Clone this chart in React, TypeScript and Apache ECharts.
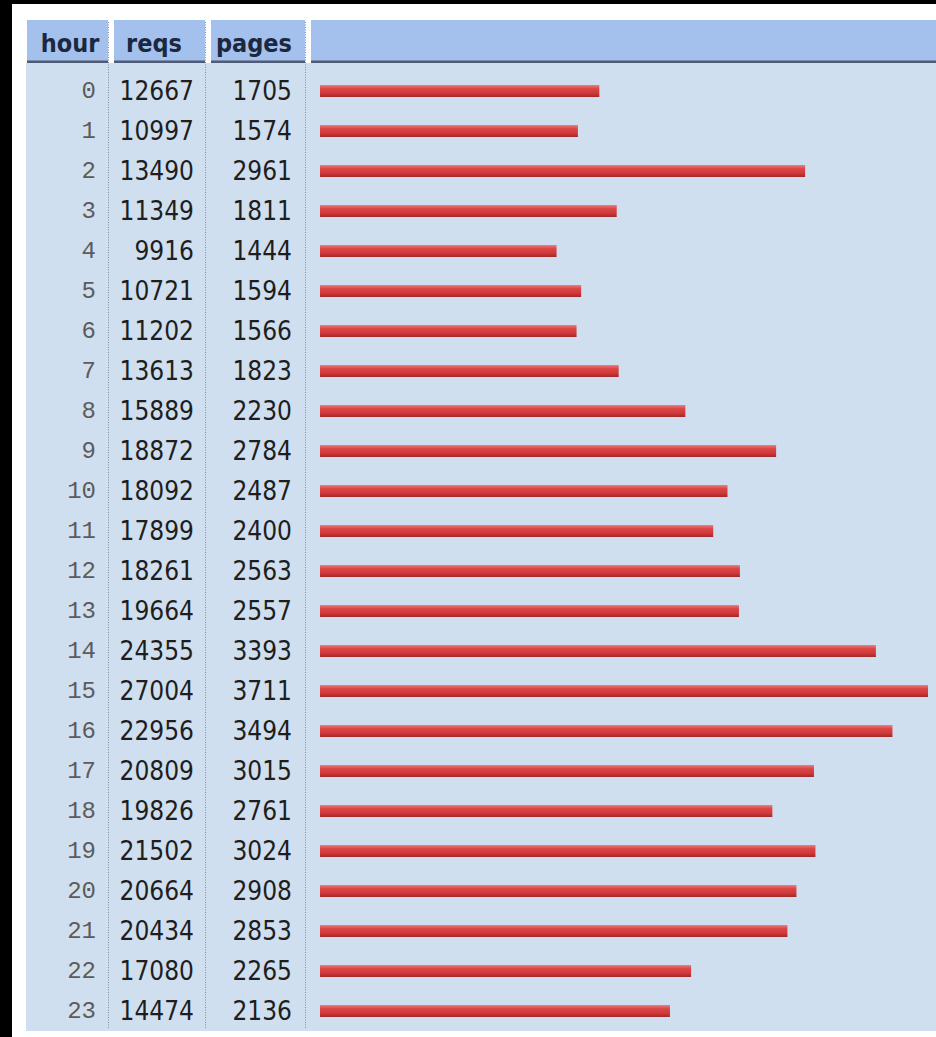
import React, { useEffect, useRef } from 'react';
import * as echarts from 'echarts';

const headers = ['hour', 'reqs', 'pages'];
const hours = ['0', '1', '2', '3', '4', '5', '6', '7', '8', '9', '10', '11', '12', '13', '14', '15', '16', '17', '18', '19', '20', '21', '22', '23'];
const reqs = [12667, 10997, 13490, 11349, 9916, 10721, 11202, 13613, 15889, 18872, 18092, 17899, 18261, 19664, 24355, 27004, 22956, 20809, 19826, 21502, 20664, 20434, 17080, 14474];
const pages = [1705, 1574, 2961, 1811, 1444, 1594, 1566, 1823, 2230, 2784, 2487, 2400, 2563, 2557, 3393, 3711, 3494, 3015, 2761, 3024, 2908, 2853, 2265, 2136];

export default function App() {
  const ref = useRef<HTMLDivElement>(null);
  useEffect(() => {
    document.body.style.margin = '0';
    const chart = echarts.init(ref.current!, null, { renderer: 'svg' });
    const numFont = "'DejaVu Sans Condensed', 'Liberation Sans', sans-serif";
    const monoFont = "'Liberation Mono', 'DejaVu Sans Mono', monospace";
    const mkAxis = (data: string[], offset: number, font: string, size: number, color: string, pad: number[]) => ({
      type: 'category',
      data,
      inverse: true,
      position: 'left',
      offset,
      z: 5,
      axisLine: { show: false },
      axisTick: { show: false },
      splitLine: { show: false },
      axisLabel: {
        interval: 0,
        margin: 0,
        fontFamily: font,
        fontSize: size,
        color,
        align: 'right',
        padding: pad,
      },
    });

    const headerCells = [
      { x: 27, w: 81 },
      { x: 114, w: 91 },
      { x: 211, w: 94 },
      { x: 311, w: 625 },
    ];
    const headerTextX = [70, 154, 254];
    const sepX = [108.5, 205.5, 305.5];

    const elements: any[] = [
      { type: 'rect', shape: { x: 12, y: 4, width: 924, height: 1033 }, style: { fill: '#ffffff' }, z: -10, silent: true },
      { type: 'rect', shape: { x: 26, y: 63, width: 910, height: 968 }, style: { fill: '#d0dfef' }, z: -9, silent: true },
    ];
    headerCells.forEach((c) => {
      elements.push({ type: 'rect', shape: { x: c.x, y: 20, width: c.w, height: 41 }, style: { fill: '#a3c1ec' }, z: -8, silent: true });
      elements.push({ type: 'rect', shape: { x: c.x, y: 60.5, width: c.w, height: 2.5 }, style: { fill: '#505c74' }, z: -7, silent: true });
    });
    sepX.forEach((x) => {
      elements.push({
        type: 'line',
        shape: { x1: x, y1: 22, x2: x, y2: 1029 },
        style: { stroke: '#7d8ca4', lineWidth: 1, lineDash: [1, 1.5] },
        z: -6,
        silent: true,
      });
    });
    headers.forEach((h, i) => {
      elements.push({
        type: 'text',
        x: headerTextX[i],
        y: 43,
        z: 10,
        silent: true,
        style: {
          text: h,
          fill: '#1b2840',
          font: `bold 25px ${numFont}`,
          align: 'center',
          verticalAlign: 'middle',
        },
      });
    });

    chart.setOption({
      animation: false,
      backgroundColor: '#000000',
      graphic: { elements },
      grid: { left: 320, top: 71, width: 608, height: 960, containLabel: false },
      xAxis: { type: 'value', min: 0, max: Math.max(...pages), show: false },
      yAxis: [
        mkAxis(hours, 28, numFont, 26, '#1e1e1e', [0, 0, 0, 0]),
        mkAxis(reqs.map(String), 126, numFont, 26, '#1e1e1e', [0, 0, 0, 0]),
        mkAxis(hours, 224, monoFont, 24, '#5c5c5c', [0, 0, 0, 0]),
      ].map((a, i) => (i === 0 ? { ...a, data: hours, axisLabel: { ...a.axisLabel, formatter: (_v: string, idx: number) => String(pages[idx]), padding: [0, 0, 6, 0] } } : i === 1 ? { ...a, axisLabel: { ...a.axisLabel, padding: [0, 0, 6, 0] } } : a)),
      series: [
        {
          type: 'bar',
          yAxisIndex: 0,
          data: pages,
          barWidth: 12,
          itemStyle: {
            color: new echarts.graphic.LinearGradient(0, 0, 0, 1, [
              { offset: 0, color: '#ec7f7f' },
              { offset: 0.3, color: '#dc4646' },
              { offset: 0.7, color: '#cf3838' },
              { offset: 1, color: '#a32828' },
            ]),
          },
          z: 3,
        },
      ],
    });
    return () => chart.dispose();
  }, []);
  return <div ref={ref} style={{ width: 936, height: 1037 }} />;
}
